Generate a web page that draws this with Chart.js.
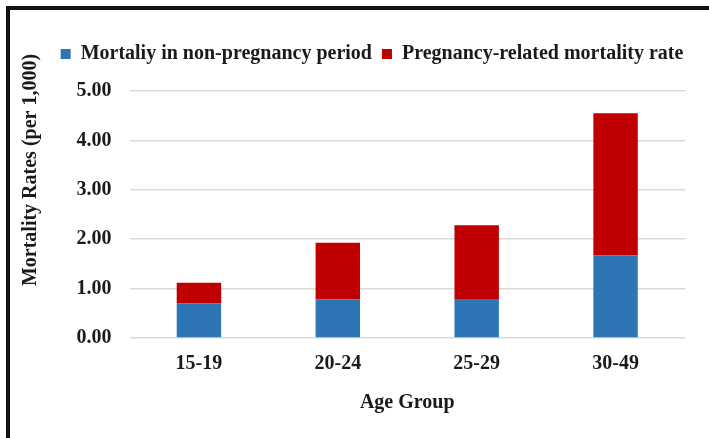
<!DOCTYPE html>
<html>
<head>
<meta charset="utf-8">
<script src="https://cdn.jsdelivr.net/npm/chart.js@4/dist/chart.umd.min.js"></script>
<style>
  html, body { margin: 0; padding: 0; background: #fff; overflow: hidden; }
  #wrap { position: relative; width: 709px; height: 438px; }
  #c { position: absolute; left: 0; top: 0; }
  #frame { position: absolute; left: 6px; top: 6px; width: 800px; height: 600px;
           border-left: 4px solid #111; border-top: 4px solid #111; pointer-events: none; }
</style>
</head>
<body>
<div id="wrap">
  <canvas id="c" width="709" height="438"></canvas>
  <div id="frame"></div>
</div>
<script>
const categories = ['15-19', '20-24', '25-29', '30-49'];
const nonPregnancy = [0.70, 0.78, 0.79, 1.67];
const pregnancyRelated = [0.42, 1.15, 1.49, 2.88];
const seriesNames = ['Mortaliy in non-pregnancy period', 'Pregnancy-related mortality rate'];
const yTicks = [0, 1, 2, 3, 4, 5];
const xTitle = 'Age Group';
const yTitle = 'Mortality Rates (per 1,000)';

const FONT = '"Liberation Serif", "Times New Roman", serif';
const TXT = '#1a1a1a';

const legendShift = {
  id: 'legendShift',
  afterLayout(chart) {
    const lg = chart.legend;
    if (!lg) return;
    const shift = 372 - (lg.left + lg.right) / 2;
    lg.left += shift;
    lg.right += shift;
  }
};

const yTitlePlugin = {
  id: 'yTitlePlugin',
  afterDraw(chart) {
    const ctx = chart.ctx;
    ctx.save();
    ctx.translate(31, 170);
    ctx.rotate(-Math.PI / 2);
    ctx.font = 'bold 20px ' + FONT;
    ctx.fillStyle = TXT;
    ctx.textAlign = 'center';
    ctx.textBaseline = 'middle';
    ctx.fillText(yTitle, 0, 0);
    ctx.restore();
  }
};

new Chart(document.getElementById('c'), {
  type: 'bar',
  data: {
    labels: categories,
    datasets: [
      { label: seriesNames[0], data: nonPregnancy, backgroundColor: '#2E75B6',
        categoryPercentage: 1, barPercentage: 0.32 },
      { label: seriesNames[1], data: pregnancyRelated, backgroundColor: '#C00000',
        categoryPercentage: 1, barPercentage: 0.32 }
    ]
  },
  options: {
    responsive: false,
    animation: false,
    layout: { padding: { left: 12, right: 24, top: 34, bottom: 19 } },
    plugins: {
      legend: {
        position: 'top',
        labels: {
          boxWidth: 10, boxHeight: 10, padding: 10, color: TXT,
          font: { family: FONT, size: 20, weight: 'bold' }
        }
      },
      subtitle: {
        display: true, text: '', weight: 500,
        font: { size: 1, lineHeight: 1 }, padding: { top: 8, bottom: 8 }
      },
      tooltip: { enabled: false }
    },
    scales: {
      x: {
        stacked: true,
        grid: { display: false, drawTicks: false },
        border: { display: false },
        ticks: { color: TXT, padding: 14, font: { family: FONT, size: 20, weight: 'bold' } },
        title: { display: true, text: xTitle, color: TXT, padding: { top: 4, bottom: 4 },
                 font: { family: FONT, size: 20, weight: 'bold' } },
        afterFit(scale) { scale.height = 81; }
      },
      y: {
        stacked: true,
        min: 0, max: 5,
        afterBuildTicks(scale) { scale.ticks = yTicks.map(v => ({ value: v })); },
        grid: { color: '#d9d9d9', lineWidth: 1.5, drawTicks: false },
        border: { display: false },
        ticks: { color: TXT, padding: 18, font: { family: FONT, size: 20, weight: 'bold' },
                 callback: v => Number(v).toFixed(2) },
        afterFit(scale) { scale.width = 117.5; }
      }
    }
  },
  plugins: [legendShift, yTitlePlugin]
});
</script>
</body>
</html>
